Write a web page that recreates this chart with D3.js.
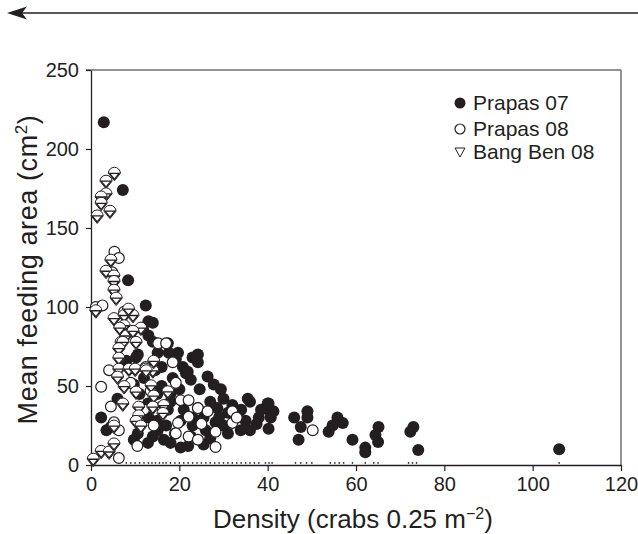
<!DOCTYPE html>
<head>
<meta charset="utf-8">
<script src="https://cdn.jsdelivr.net/npm/d3@7/dist/d3.min.js"></script>
<style>
body { margin: 0; background: #fff; }
text { font-family: "Liberation Sans", Arial, sans-serif; fill: #231f20; }
</style>
</head>
<body>
<script>
// data: [density, mean feeding area]
var prapas07 = [[2.9,217],[7.2,174],[8.4,117],[12.4,101],[14,90],[11.8,86],[13,91],[10.2,68],[17.4,77],[15.1,71],
  [19.7,71],[24.2,70],[24.2,65],[17.6,71],[19.2,67],[20.8,62],[21.5,58],[23,68],[21.9,59],[26.4,56],[22.6,54],
  [27.8,51],[29.4,48],[24.6,48],[35.5,42],[9.7,51],[10.6,70],[2.3,30],[4.5,24],[40,39],[40.7,33],[38.5,35],
  [31,33],[33.2,30],[33.9,22],[31,20],[28.2,27],[25.5,13],[20.3,11],[16.5,16],[12.9,14],[9.7,16],[10.6,20],
  [15.1,22],[22.6,18],[12.9,39],[17.4,35],[20.3,28],[24.2,36],[28.6,36],[40.2,39],[41.3,34],[40.7,30],[40.2,23],
  [46,30],[49,34],[47.5,24],[49,30],[47,16],[55.8,30],[57,26.6],[54.7,25],[53.8,21],[59.2,16],[62.1,11],[62.1,8],
  [65.1,24],[64.4,19],[65,14.6],[73,24],[72.3,21],[74.1,9.5],[106,10],[14.5,60],[16,50],[18,45],[13,30],[15,28],
  [19,20],[23,25],[26,22],[30,25],[35,28],[36,22],[37.5,26],[11,45],[27,40],[32,38],[14,78],[13,82],[8,66],
  [6,42],[3.5,22],[16,62],[18.5,55],[25.5,30],[18,40],[21,35],[23,30],[17,25],[14,18],[18,14],[22,12],[27,17],
  [29,30],[34,35],[38,30],[36,40],[30,42],[20,48],[12,55],[15,45]];
var prapas08 = [[5.3,135],[6.3,131],[1.1,100],[2.6,101],[4.8,122],[15.2,77],[17,77],[2.3,49.5],[4.1,60],[12.4,62],
  [19.2,52],[20.3,41],[22.1,41],[24.2,36],[26.4,34],[32,34],[22.1,30.5],[19.7,26.6],[14.2,25],[19.2,20],[22.1,18],
  [24.2,16],[28.2,11.4],[28.2,21],[32,26.6],[6.3,4.4],[6.3,22],[4.5,37],[5.2,27],[12,35],[50.2,22],[13.5,47],
  [16,37],[25,26],[10.5,12],[33,30],[9,52],[7.5,97],[18.5,65]];
var bangBen08 = [[5.3,184],[3.4,179],[3.4,171],[2.3,169],[2.3,165],[4.3,160],[1.4,157],[4.5,129],[3.4,122],
  [5.2,119],[5.2,115.5],[5.2,110],[5.7,105],[1.1,97],[5.2,92],[7.5,94],[9.5,94],[7.5,87.5],[7.9,81],[11.3,86],
  [6.8,77],[7.2,77],[6.3,73],[6.3,67],[6.3,60],[8.6,60],[10,60],[12.4,60],[14,59],[9.5,84],[10.2,77],[14.2,65],
  [12.5,59],[7.5,49],[10.2,45.5],[7.2,38],[10.8,36],[13.6,49.5],[14.2,43],[14,36],[16.5,37],[10.8,30.5],[10.2,27],
  [11.3,24],[5.2,24],[17.4,45.7],[16.3,32],[2.3,8],[4.1,7.6],[5.2,12.7],[0.5,3],[6.5,86],[8.5,98],[6,55]];
// tiny marks lying on the zero line
var zeroMarks = [8,9,10,11,12,13,13.8,14.6,15.5,16.3,17,18,19,20,21,22,23,24,25,26,27,28,29,30,31,32,33,34,35,
  36,37,38,39.5,40.3,41,46.3,47.5,48.8,50,54.2,55.2,56.2,57.2,59.2,62.1,64,65,71.9,72.8,73.7,106];
var xTicks = [0,20,40,60,80,100,120];
var yTicks = [0,50,100,150,200,250];
var legendNames = ["Prapas 07","Prapas 08","Bang Ben 08"];

var width = 638, height = 534;
var pLeft = 91, pRight = 621, pTop = 70, pBottom = 465;

var svg = d3.select("body").append("svg")
  .attr("width", width).attr("height", height);

var x = d3.scaleLinear().domain([0,120]).range([pLeft,pRight]);
var y = d3.scaleLinear().domain([0,250]).range([pBottom,pTop]);

// arrow at the top
svg.append("line").attr("x1",20).attr("x2",width).attr("y1",13).attr("y2",13)
  .attr("stroke","#231f20").attr("stroke-width",1.5);
svg.append("path").attr("d","M7,13 L27,6.5 L22,13 L27,19.5 Z").attr("fill","#231f20");

// frame
svg.append("line").attr("x1",86).attr("x2",pRight).attr("y1",pTop).attr("y2",pTop)
  .attr("stroke","#6d6e70").attr("stroke-width",1.5);
svg.append("line").attr("x1",pRight).attr("x2",pRight).attr("y1",pTop).attr("y2",pBottom)
  .attr("stroke","#6d6e70").attr("stroke-width",1.5);

var xAxis = svg.append("g").attr("transform","translate(0,"+pBottom+")")
  .call(d3.axisBottom(x).tickValues(xTicks).tickSize(6).tickPadding(6).tickSizeOuter(0));
var yAxis = svg.append("g").attr("transform","translate("+pLeft+",0)")
  .call(d3.axisLeft(y).tickValues(yTicks).tickSize(5).tickPadding(7).tickSizeOuter(0));
[xAxis, yAxis].forEach(function(a) {
  a.select(".domain").attr("stroke","#231f20").attr("stroke-width",1.3);
  a.selectAll(".tick line").attr("stroke","#231f20").attr("stroke-width",1.2);
  a.selectAll("text").attr("font-size",20).attr("font-family","Liberation Sans, Arial, sans-serif").attr("fill","#231f20");
});

// zero-line marks
svg.append("g").selectAll("rect").data(zeroMarks).enter().append("rect")
  .attr("x", function(d) {return x(d)-0.7;})
  .attr("y", y(1)-1.5)
  .attr("width",1.4).attr("height",2)
  .attr("fill","#444");

var r = 6;
svg.append("g").selectAll("circle").data(prapas07).enter().append("circle")
  .attr("cx", function(d) {return x(d[0]);})
  .attr("cy", function(d) {return y(d[1]);})
  .attr("r", r).attr("fill","#231f20");
svg.append("g").selectAll("circle").data(prapas08).enter().append("circle")
  .attr("cx", function(d) {return x(d[0]);})
  .attr("cy", function(d) {return y(d[1]);})
  .attr("r", r-0.6).attr("fill","#fff").attr("stroke","#231f20").attr("stroke-width",1.2);

// triangle marks: round top, pointed bottom, inner triangle
var shield = "M-6,-1 A6,6 0 0,1 6,-1 L0,6.5 Z";
var inner = "M-5,-1 L5,-1 L0,5";
var tri = svg.append("g").selectAll("g").data(bangBen08).enter().append("g")
  .attr("transform", function(d) {return "translate("+x(d[0])+","+y(d[1])+")";});
tri.append("path").attr("d",shield).attr("fill","#fff").attr("stroke","#231f20").attr("stroke-width",1);
tri.append("path").attr("d",inner+" Z").attr("fill","none").attr("stroke","#231f20").attr("stroke-width",1.3);

// legend
var lg = svg.append("g");
var ly = [103, 129, 152];
lg.append("circle").attr("cx",460).attr("cy",ly[0]).attr("r",5.5).attr("fill","#231f20");
lg.append("circle").attr("cx",460).attr("cy",ly[1]).attr("r",5).attr("fill","#fff").attr("stroke","#231f20").attr("stroke-width",1.2);
lg.append("path").attr("d","M455,"+(ly[2]-4)+" L465,"+(ly[2]-4)+" L460,"+(ly[2]+5)+" Z")
  .attr("fill","#fff").attr("stroke","#231f20").attr("stroke-width",1);
lg.selectAll("text").data(legendNames).enter().append("text")
  .attr("x",473).attr("y", function(d,i) {return ly[i]+7;})
  .attr("font-size",21).text(function(d) {return d;});

// axis titles
var xt = svg.append("text").attr("x",(pLeft+pRight)/2 - 3).attr("y",528)
  .attr("text-anchor","middle").attr("font-size",26);
xt.append("tspan").text("Density (crabs 0.25 m");
xt.append("tspan").attr("dy",-9).attr("font-size",16).text("\u22122");
xt.append("tspan").attr("dy",9).text(")");

var yt = svg.append("text").attr("transform","translate(37,"+((pTop+pBottom)/2 + 2)+") rotate(-90)")
  .attr("text-anchor","middle").attr("font-size",27).attr("letter-spacing",0.6);
yt.append("tspan").text("Mean feeding area (cm");
yt.append("tspan").attr("dy",-10).attr("font-size",17).text("2");
yt.append("tspan").attr("dy",10).text(")");
</script>
</body>
